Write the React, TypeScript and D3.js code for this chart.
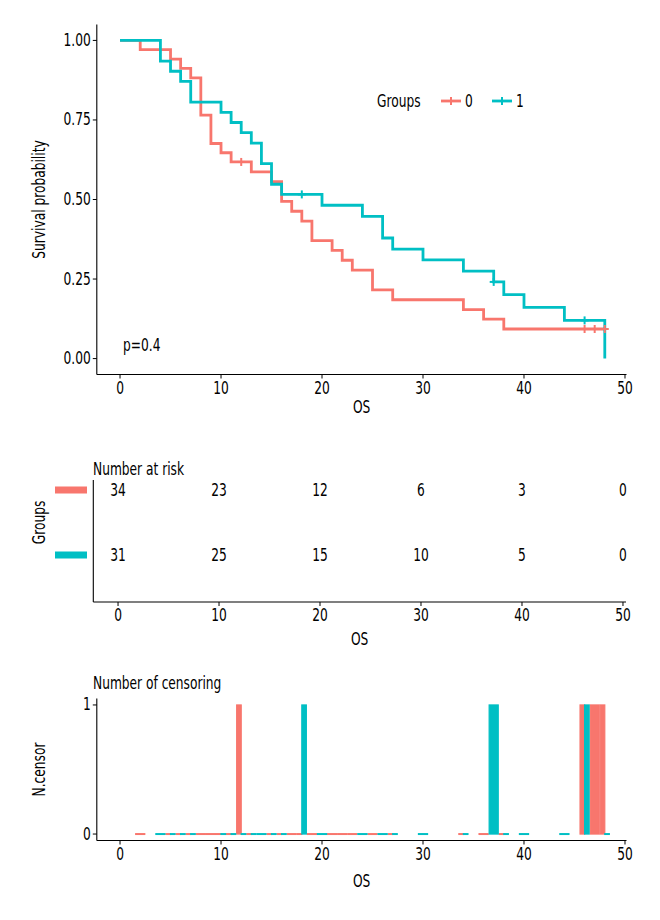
import React from "react";
import * as d3 from "d3";

const groups = ["0", "1"];
const groupColors = ["#F8766D", "#00BFC4"];

// KM steps (time, survival)
const stepTimes0 = [0, 2, 5, 6, 7, 8, 9, 10, 11, 13, 15, 16, 17, 18, 19, 21, 22, 23, 25, 27, 34, 36, 38, 48];
const stepSurv0 = [1, 0.971, 0.941, 0.912, 0.882, 0.765, 0.676, 0.647, 0.618, 0.587, 0.556, 0.494, 0.463, 0.432, 0.371, 0.34, 0.309, 0.278, 0.216, 0.185, 0.154, 0.124, 0.093, 0.093];
const stepTimes1 = [0, 4, 5, 6, 7, 10, 11, 12, 13, 14, 15, 16, 20, 24, 26, 27, 30, 34, 37, 38, 40, 44, 48];
const stepSurv1 = [1, 0.935, 0.903, 0.871, 0.806, 0.774, 0.742, 0.71, 0.677, 0.613, 0.548, 0.516, 0.482, 0.447, 0.379, 0.344, 0.31, 0.275, 0.241, 0.201, 0.161, 0.12, 0];

const censorTimes0 = [12, 46, 47, 48];
const censorTimes1 = [18, 37, 46];

const riskTimes = [0, 10, 20, 30, 40, 50];
const atRisk0 = [34, 23, 12, 6, 3, 0];
const atRisk1 = [31, 25, 15, 10, 5, 0];

const xTicks = [0, 10, 20, 30, 40, 50];
const yTicks = [0, 0.25, 0.5, 0.75, 1];

const FONT = "'DejaVu Sans Condensed', 'DejaVu Sans', sans-serif";
const FS = 17;
const SX = 0.8; // squeeze to mimic the narrow face of the original

const steps = [
  { times: stepTimes0, surv: stepSurv0, censor: censorTimes0 },
  { times: stepTimes1, surv: stepSurv1, censor: censorTimes1 },
];

function survAt(times: number[], surv: number[], t: number) {
  let s = 1;
  times.forEach((tt, i) => {
    if (tt <= t) s = surv[i];
  });
  return s;
}

// condensed text helper
const T = ({
  x,
  y,
  anchor = "start",
  rot = 0,
  mid = false,
  children,
}: {
  x: number;
  y: number;
  anchor?: "start" | "middle" | "end";
  rot?: number;
  mid?: boolean;
  children: React.ReactNode;
}) => (
  <text
    transform={`translate(${x},${y}) rotate(${rot}) scale(${SX},1)`}
    fontFamily={FONT}
    fontSize={FS}
    fill="#000"
    textAnchor={anchor}
    dominantBaseline={mid ? "central" : "auto"}
  >
    {children}
  </text>
);

const Cross = ({ x, y, color, r = 4 }: { x: number; y: number; color: string; r?: number }) => (
  <g stroke={color} strokeWidth={2}>
    <line x1={x - r} x2={x + r} y1={y} y2={y} />
    <line x1={x} x2={x} y1={y - r} y2={y + r} />
  </g>
);

export default function App() {
  const x = d3.scaleLinear().domain([-2.3, 50.15]).range([96.8, 626.5]);
  const y = d3.scaleLinear().domain([-0.05, 1.05]).range([374.5, 24.5]);

  // risk table
  const xt = d3.scaleLinear().domain([-2.45, 50.3]).range([93.3, 626]);
  const yt = d3.scalePoint<string>().domain(groups).range([490, 555]);

  // censor plot
  const xc = x;
  const yc = d3.scaleLinear().domain([-0.05, 1.05]).range([840.5, 698.5]);

  // bars for the censoring plot, dodged where both groups share a time
  const eventTimes = steps.map((s) => s.times.filter((t, i) => i > 0 && s.surv[i] !== s.surv[i - 1]));
  const allTimes = steps.map((s, g) => Array.from(new Set([...eventTimes[g], ...s.censor])).sort((a, b) => a - b));
  const bars: { t: number; g: number; n: number; x0: number; x1: number }[] = [];
  allTimes.forEach((ts, g) => {
    ts.forEach((t) => {
      const shared = allTimes[1 - g].includes(t);
      const n = steps[g].censor.filter((c) => c === t).length;
      let x0 = t - 0.45;
      let x1 = t + 0.45;
      if (shared) {
        if (g === 0) x1 = t;
        else x0 = t;
      }
      bars.push({ t, g, n, x0, x1 });
    });
  });

  return (
    <svg width={660} height={920} style={{ position: "absolute", left: 0, top: 0 }}>
      <rect width={660} height={920} fill="#fff" />

      {/* ---------- survival curves ---------- */}
      {steps.map((s, g) => {
        const pts = s.times.map((t, i) => [x(t), y(s.surv[i])] as [number, number]);
        const path = d3.line().curve(d3.curveStepAfter)(pts);
        return <path key={g} d={path || ""} fill="none" stroke={groupColors[g]} strokeWidth={2.8} />;
      })}
      {steps.map((s, g) =>
        s.censor.map((c, i) => (
          <Cross key={`${g}-${i}`} x={x(c)} y={y(survAt(s.times, s.surv, c))} color={groupColors[g]} />
        ))
      )}

      {/* axes */}
      <line x1={x(-2.3)} x2={x(-2.3)} y1={y(1.05)} y2={y(-0.05)} stroke="#000" strokeWidth={1.1} />
      <line x1={x(-2.3)} x2={x(50.15)} y1={y(-0.05)} y2={y(-0.05)} stroke="#000" strokeWidth={1.1} />
      {yTicks.map((t) => (
        <g key={t}>
          <line x1={x(-2.3) - 4} x2={x(-2.3)} y1={y(t)} y2={y(t)} stroke="#000" />
          <T x={x(-2.3) - 6} y={y(t)} anchor="end" mid>
            {t.toFixed(2)}
          </T>
        </g>
      ))}
      {xTicks.map((t) => (
        <g key={t}>
          <line x1={x(t)} x2={x(t)} y1={y(-0.05)} y2={y(-0.05) + 4} stroke="#000" />
          <T x={x(t)} y={y(-0.05) + 19} anchor="middle">
            {t}
          </T>
        </g>
      ))}
      <T x={(x(-2.3) + x(50.15)) / 2} y={413} anchor="middle">
        OS
      </T>
      <T x={45} y={y(0.5)} anchor="middle" rot={-90}>
        Survival probability
      </T>
      <T x={x(0.3)} y={351}>
        p=0.4
      </T>

      {/* legend */}
      <T x={377} y={101} mid>
        Groups
      </T>
      {groups.map((gname, g) => (
        <g key={gname}>
          <line x1={441 + g * 51} x2={461 + g * 51} y1={101} y2={101} stroke={groupColors[g]} strokeWidth={2.8} />
          <Cross x={451 + g * 51} y={101} color={groupColors[g]} />
          <T x={465 + g * 51} y={101} mid>
            {gname}
          </T>
        </g>
      ))}

      {/* ---------- risk table ---------- */}
      <T x={93} y={475}>
        Number at risk
      </T>
      <line x1={xt(-2.45)} x2={xt(-2.45)} y1={480} y2={602} stroke="#000" strokeWidth={1.1} />
      <line x1={xt(-2.45)} x2={xt(50.3)} y1={602} y2={602} stroke="#000" strokeWidth={1.1} />
      {xTicks.map((t) => (
        <g key={t}>
          <line x1={xt(t)} x2={xt(t)} y1={602} y2={606} stroke="#000" />
          <T x={xt(t)} y={621} anchor="middle">
            {t}
          </T>
        </g>
      ))}
      <T x={(xt(-2.45) + xt(50.3)) / 2} y={645} anchor="middle">
        OS
      </T>
      <T x={45} y={(yt("0")! + yt("1")!) / 2} anchor="middle" rot={-90}>
        Groups
      </T>
      {groups.map((gname, g) => (
        <g key={gname}>
          <rect x={55} width={32} y={(yt(gname) ?? 0) - 3.5} height={7} fill={groupColors[g]} />
          {riskTimes.map((t, i) => (
            <T key={t} x={xt(t)} y={yt(gname) ?? 0} anchor="middle" mid>
              {(g === 0 ? atRisk0 : atRisk1)[i]}
            </T>
          ))}
        </g>
      ))}

      {/* ---------- censoring plot ---------- */}
      <T x={93} y={689}>
        Number of censoring
      </T>
      {bars.map((b, i) =>
        b.n > 0 ? (
          <rect
            key={i}
            x={xc(b.x0)}
            width={xc(b.x1) - xc(b.x0)}
            y={yc(b.n)}
            height={yc(0) - yc(b.n)}
            fill={groupColors[b.g]}
            stroke={groupColors[b.g]}
            strokeWidth={1.2}
          />
        ) : (
          <line
            key={i}
            x1={xc(b.x0) - 0.6}
            x2={xc(b.x1) + 0.6}
            y1={yc(0)}
            y2={yc(0)}
            stroke={groupColors[b.g]}
            strokeWidth={2}
          />
        )
      )}
      <line x1={xc(-2.3)} x2={xc(-2.3)} y1={yc(1.05)} y2={yc(-0.05)} stroke="#000" strokeWidth={1.1} />
      <line x1={xc(-2.3)} x2={xc(50.15)} y1={yc(-0.05)} y2={yc(-0.05)} stroke="#000" strokeWidth={1.1} />
      {[0, 1].map((t) => (
        <g key={t}>
          <line x1={xc(-2.3) - 4} x2={xc(-2.3)} y1={yc(t)} y2={yc(t)} stroke="#000" />
          <T x={xc(-2.3) - 6} y={yc(t)} anchor="end" mid>
            {t}
          </T>
        </g>
      ))}
      {xTicks.map((t) => (
        <g key={t}>
          <line x1={xc(t)} x2={xc(t)} y1={yc(-0.05)} y2={yc(-0.05) + 4} stroke="#000" />
          <T x={xc(t)} y={yc(-0.05) + 19} anchor="middle">
            {t}
          </T>
        </g>
      ))}
      <T x={(xc(-2.3) + xc(50.15)) / 2} y={887} anchor="middle">
        OS
      </T>
      <T x={45} y={yc(0.5)} anchor="middle" rot={-90}>
        N.censor
      </T>
    </svg>
  );
}
